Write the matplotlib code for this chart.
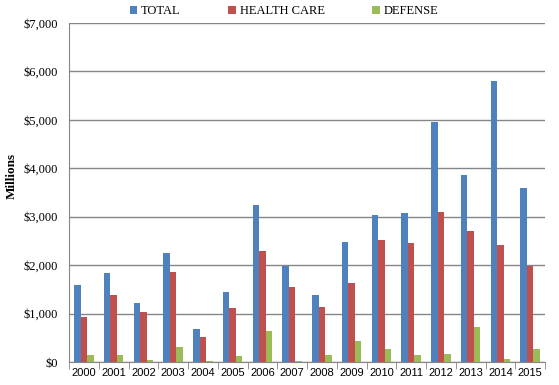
import matplotlib
matplotlib.use("Agg")
import matplotlib.pyplot as plt
import numpy as np
from matplotlib.ticker import FuncFormatter, FixedLocator

years = ["2000", "2001", "2002", "2003", "2004", "2005", "2006", "2007",
         "2008", "2009", "2010", "2011", "2012", "2013", "2014", "2015"]
total = [1590, 1845, 1220, 2250, 680, 1445, 3250, 1985,
         1385, 2480, 3035, 3080, 4960, 3870, 5805, 3600]
health_care = [935, 1385, 1033, 1865, 520, 1120, 2290, 1550,
               1135, 1630, 2520, 2460, 3100, 2705, 2415, 1985]
defense = [150, 150, 40, 315, 30, 130, 640, 30,
           150, 435, 270, 150, 165, 720, 60, 270]
series_names = ["TOTAL", "HEALTH CARE", "DEFENSE"]
colors = ["#4F81BD", "#C0504D", "#9BBB59"]

fig = plt.figure(figsize=(5.59, 3.85), dpi=100)
ax = fig.add_axes([69/559, 1-362/385, (545-69)/559, (362-23)/385])

x = np.arange(len(years))
w = 0.22
for i, (vals, name, c) in enumerate(zip([total, health_care, defense], series_names, colors)):
    ax.bar(x + (i-1)*w, vals, width=w, color=c, label=name, zorder=3)

ax.set_xlim(-0.5, len(years)-0.5)
ax.set_ylim(0, 7000)
ax.set_yticks(np.arange(0, 7001, 1000))
ax.yaxis.set_major_formatter(FuncFormatter(lambda v, p: "${:,.0f}".format(v)))
ax.grid(axis="y", color="#868686", linewidth=1, zorder=0)
ax.set_axisbelow(True)
for s in ["top", "right"]:
    ax.spines[s].set_visible(False)
ax.spines["left"].set_color("#868686")
ax.spines["bottom"].set_color("#868686")
ax.tick_params(axis="y", length=0, pad=8, labelsize=9)
for lbl in ax.get_yticklabels():
    lbl.set_family("Liberation Serif")
ax.set_xticks(x)
ax.set_xticklabels(years, family="Liberation Sans", fontsize=8)
ax.tick_params(axis="x", which="major", length=0, pad=4)
ax.xaxis.set_minor_locator(FixedLocator(np.arange(-0.5, len(years), 1)))
ax.tick_params(axis="x", which="minor", length=5, color="#868686")
ax.set_ylabel("Millions", family="Liberation Serif", fontweight="bold", fontsize=9.5)
ax.yaxis.set_label_coords(-0.108, 0.55)

leg = fig.legend(loc="upper center", bbox_to_anchor=(0.508, 1.015), ncol=3, frameon=False,
                 handlelength=0.6, handleheight=0.6, handletextpad=0.3, columnspacing=3.8,
                 prop={"family": "Liberation Serif", "size": 9})

fig.savefig("out.png", dpi=100)
